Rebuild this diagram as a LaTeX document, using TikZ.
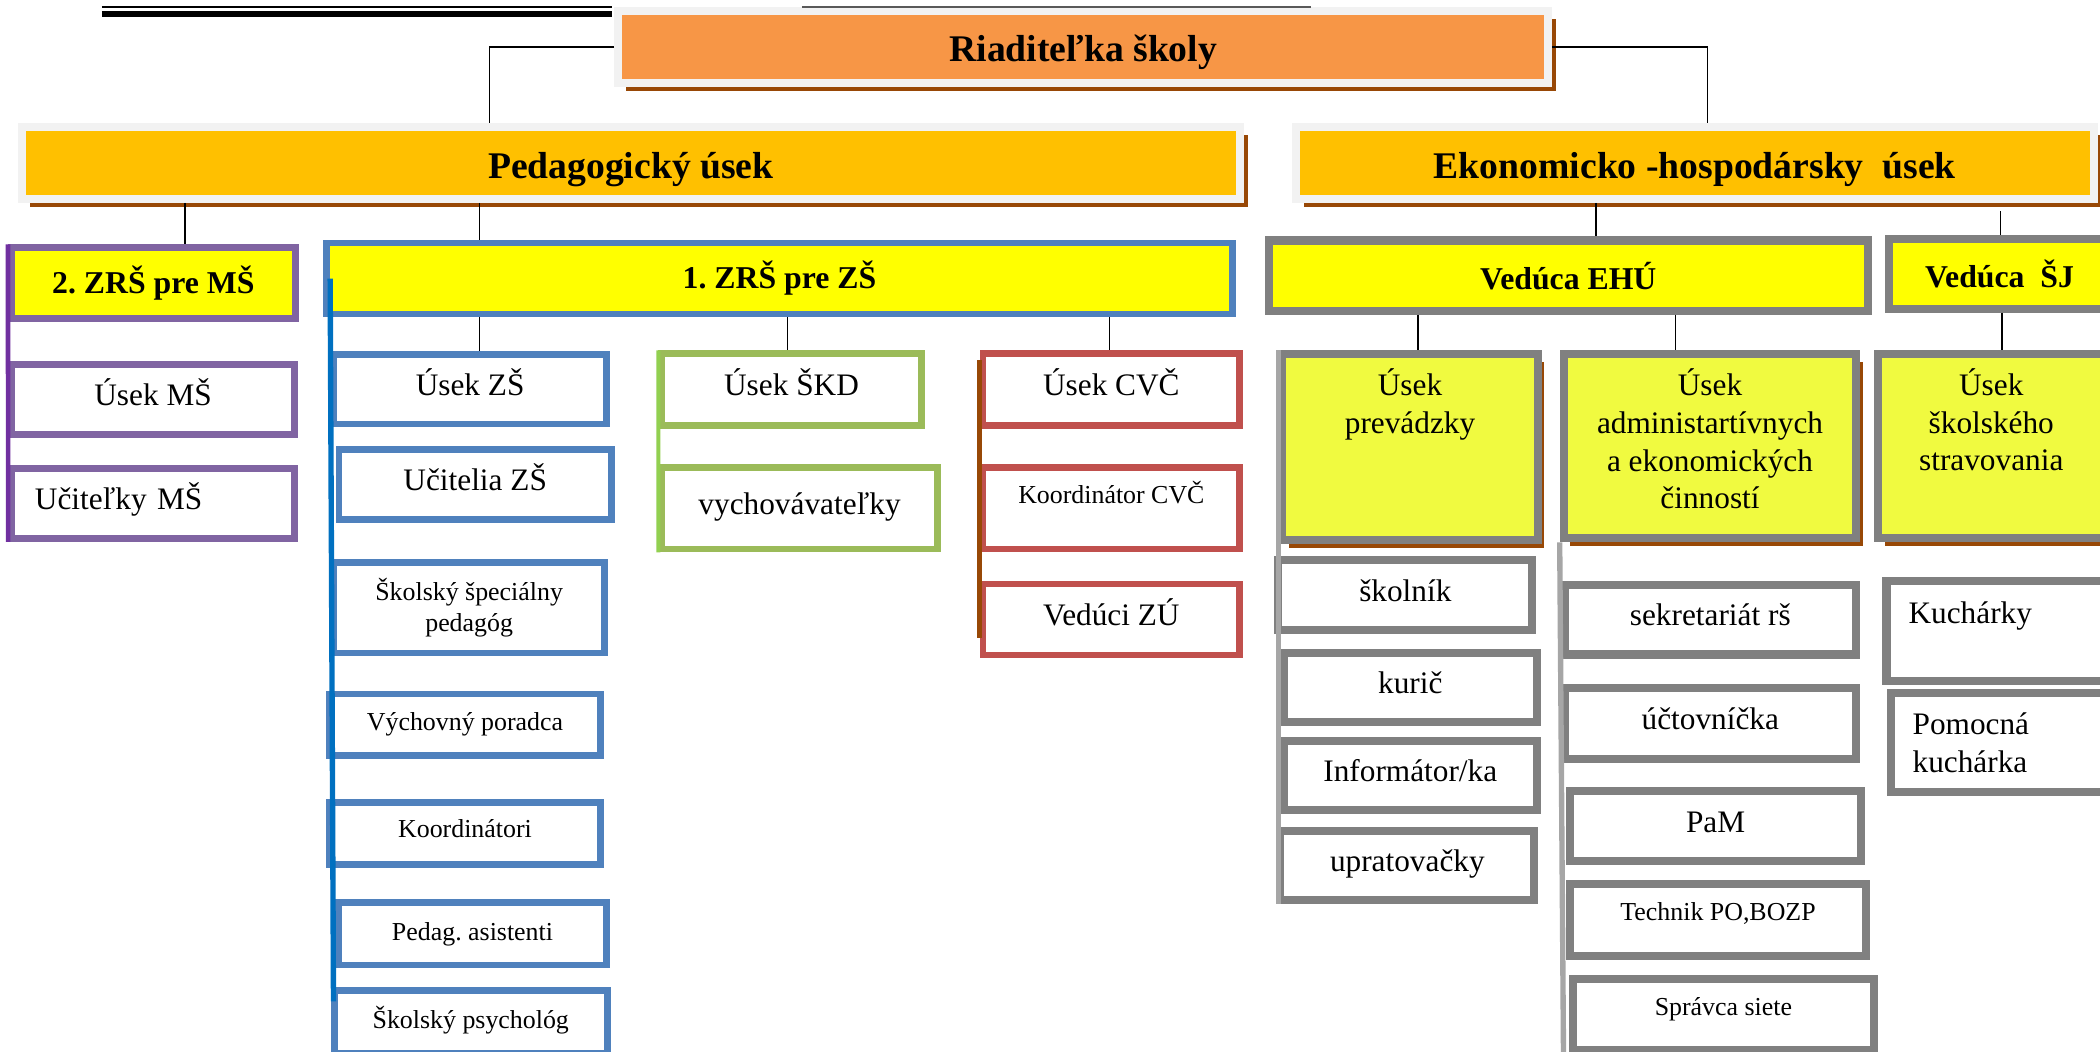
\documentclass[tikz,border=0pt]{standalone}
\usepackage{fontspec}
\setmainfont{Liberation Serif}
\usetikzlibrary{shadows}

\definecolor{riadorange}{HTML}{F79646}
\definecolor{headorange}{HTML}{FFC000}
\definecolor{headyellow}{HTML}{FFFF00}
\definecolor{usekyellow}{HTML}{F0FA40}
\definecolor{framegray}{HTML}{F2F2F2}
\definecolor{shadowbrown}{HTML}{984806}
\definecolor{msframe}{HTML}{8064A2}
\definecolor{msbar}{HTML}{7030A0}
\definecolor{zsframe}{HTML}{4F81BD}
\definecolor{zsbar}{HTML}{0070C0}
\definecolor{skdframe}{HTML}{9BBB59}
\definecolor{skdbar}{HTML}{92D050}
\definecolor{cvcframe}{HTML}{C0504D}
\definecolor{ehuframe}{HTML}{808080}
\definecolor{ehubar}{HTML}{A6A6A6}

\begin{document}
\begin{tikzpicture}[x=0.02cm, y=-0.02cm,
    every node/.style = {shape=rectangle, align=center, inner sep=0pt},
    headbox/.style = {draw=framegray, line width=0.12cm, fill=headorange,
      font=\fontsize{16}{19}\selectfont\bfseries,
      text height=0.55cm, text depth=0.1cm,
      drop shadow={shadow xshift=0.12cm, shadow yshift=-0.12cm,
        fill=shadowbrown, opacity=1}},
    leadbox/.style = {draw=#1, line width=0.1cm, fill=headyellow,
      font=\fontsize{13.5}{16}\selectfont\bfseries},
    tbox/.style = {draw=#1, line width=0.1cm, fill=white,
      font=\fontsize{13.3}{16}\selectfont},
    ubox/.style = {tbox=#1, text height=0.33cm, text depth=0.15cm},
    sbox/.style = {tbox=#1, font=\fontsize{11}{13.2}\selectfont},
    sekbox/.style = {draw=ehuframe, line width=0.12cm, fill=usekyellow,
      font=\fontsize{13.3}{16}\selectfont,
      drop shadow={shadow xshift=0.1cm, shadow yshift=-0.12cm,
        fill=shadowbrown, opacity=1}},
    conn/.style = {draw=black, line width=0.6pt},
    vbar/.style = {draw=#1, line width=0.08cm}]

  \useasboundingbox (0,0) rectangle (1568,785);
  \clip (0,0) rectangle (1568,785);

  % vedenie skoly
  \node[headbox, fill=riadorange, minimum width=13.89cm, minimum height=1.08cm]
    (riad) at (808.8,35) {Riaditeľka školy};
  \node[headbox, minimum width=18.2cm, minimum height=1.07cm]
    (ped) at (471,121.8) {Pedagogický úsek};
  \node[headbox, minimum width=11.92cm, minimum height=1.07cm]
    (eko) at (1265.5,121.8) {Ekonomicko -hospodársky\ \ úsek};

  % zastupcovia a veduce
  \node[leadbox=msframe, minimum width=4.24cm, minimum height=1.06cm]
    (zrs2) at (114.5,211.5) {2.\ ZRŠ pre MŠ};
  \node[leadbox=zsframe, minimum width=13.54cm, minimum height=1.06cm]
    (zrs1) at (582,208) {1.\ ZRŠ pre ZŠ};
  \node[leadbox=ehuframe, line width=0.12cm, minimum width=8.94cm, minimum height=1.05cm]
    (vehu) at (1171,205.8) {Vedúca EHÚ};
  \node[leadbox=ehuframe, line width=0.12cm, minimum width=3.3cm, minimum height=1.04cm]
    (vsj) at (1493,204.5) {Vedúca\ \ ŠJ};

  % MS
  \node[ubox=msframe, minimum width=4.23cm, minimum height=1.05cm]
    (ums) at (114.3,298.3) {Úsek MŠ};
  \node[ubox=msframe, minimum width=4.23cm, minimum height=1.05cm,
    text width=3.53cm, align=left] (ucms) at (114.3,375.8) {Učiteľky MŠ};

  % ZS
  \node[ubox=zsframe, minimum width=4.08cm, minimum height=1.04cm]
    (uzs) at (351,290.5) {Úsek ZŠ};
  \node[ubox=zsframe, minimum width=4.07cm, minimum height=1.05cm]
    (uczs) at (354.8,361.8) {Učitelia ZŠ};
  \node[sbox=zsframe, minimum width=4.05cm, minimum height=1.35cm]
    (spec) at (350.3,453.8) {Školský špeciálny\\pedagóg};
  \node[sbox=zsframe, minimum width=4.05cm, minimum height=0.92cm]
    (vych) at (347.2,541.1) {Výchovný poradca};
  \node[sbox=zsframe, minimum width=4.05cm, minimum height=0.93cm, text depth=0.16cm]
    (koord) at (347.2,622.3) {Koordinátori};
  \node[sbox=zsframe, minimum width=4.01cm, minimum height=0.93cm]
    (asist) at (352.8,697.3) {Pedag.\ asistenti};
  \node[sbox=zsframe, minimum width=4.08cm, minimum height=0.94cm, text depth=0.12cm]
    (psych) at (351.5,763) {Školský psychológ};

  % SKD
  \node[ubox=skdframe, minimum width=3.88cm, minimum height=1.07cm]
    (skd) at (591,290.8) {Úsek ŠKD};
  \node[ubox=skdframe, minimum width=4.12cm, minimum height=1.22cm]
    (vychov) at (597,379.5) {vychovávateľky};

  % CVC
  \node[ubox=cvcframe, minimum width=3.83cm, minimum height=1.07cm]
    (cvc) at (829.8,290.8) {Úsek CVČ};
  \node[sbox=cvcframe, minimum width=3.83cm, minimum height=1.22cm]
    (kcvc) at (829.8,379.5) {Koordinátor CVČ\\~};
  \node[ubox=cvcframe, minimum width=3.83cm, minimum height=1.06cm]
    (vzu) at (829.8,462.5) {Vedúci ZÚ};

  % EHU useky
  \node[sekbox, minimum width=3.81cm, minimum height=2.77cm]
    (prev) at (1052.8,333.8) {Úsek\\prevádzky\\[0.82cm]~};
  \node[sekbox, minimum width=4.37cm, minimum height=2.75cm]
    (adm) at (1276.8,333.3) {Úsek\\administartívnych\\a ekonomických\\činností\\[-0.34cm]~};
  \node[sekbox, minimum width=3.37cm, minimum height=2.75cm]
    (strav) at (1486.8,333.3) {Úsek\\školského\\stravovania\\[0.23cm]~};

  % prevadzka
  \node[ubox=ehuframe, line width=0.12cm, minimum width=3.79cm, minimum height=1.05cm]
    (skoln) at (1049.3,444.3) {školník};
  \node[ubox=ehuframe, line width=0.12cm, minimum width=3.78cm, minimum height=1.03cm]
    (kuric) at (1053,513.3) {kurič};
  \node[ubox=ehuframe, line width=0.12cm, minimum width=3.78cm, minimum height=1.03cm]
    (info) at (1053,579.3) {Informátor/ka};
  \node[ubox=ehuframe, line width=0.12cm, minimum width=3.79cm, minimum height=1.03cm]
    (uprat) at (1050.8,646.3) {upratovačky};

  % administrativa
  \node[ubox=ehuframe, line width=0.12cm, minimum width=4.34cm, minimum height=1.04cm]
    (sekr) at (1277,462.7) {sekretariát rš};
  \node[ubox=ehuframe, line width=0.12cm, minimum width=4.34cm, minimum height=1.05cm]
    (ucto) at (1277,540.3) {účtovníčka};
  \node[ubox=ehuframe, line width=0.12cm, minimum width=4.34cm, minimum height=1.05cm]
    (pam) at (1281,616.8) {PaM};
  \node[sbox=ehuframe, line width=0.12cm, minimum width=4.41cm, minimum height=1.07cm,
    text depth=0.25cm] (tech) at (1282.8,686.8) {Technik PO,BOZP};
  \node[sbox=ehuframe, line width=0.12cm, minimum width=4.49cm, minimum height=1.06cm,
    text depth=0.25cm] (sprav) at (1286.8,757.7) {Správca siete};

  % jedalen
  \node[tbox=ehuframe, line width=0.12cm, minimum width=3.63cm, minimum height=1.49cm,
    text width=2.97cm, align=left] (kuch) at (1499.3,471.3) {Kuchárky\\~};
  \node[tbox=ehuframe, line width=0.12cm, minimum width=3.57cm, minimum height=1.48cm,
    text width=2.91cm, align=left] (pomoc) at (1500.8,554.5) {Pomocná\\kuchárka};

  % zvisle pasy
  \coordinate (zs-end) at (249,747.6);
  \coordinate (adm-end) at (1167.5,800);
  \draw[vbar=msbar, line width=0.07cm] (zrs2.north west) -- (ucms.south west);
  \draw[vbar=zsbar] (uzs.west |- zrs1.center) -- (zs-end);
  \draw[vbar=skdbar, line width=0.06cm] (skd.north west) -- (vychov.south west);
  \draw[vbar=shadowbrown] ([yshift=-0.14cm]cvc.north west) -- ([yshift=0.3cm]vzu.south west);
  \draw[vbar=ehubar, line width=0.07cm] (prev.north west) -- (prev.west |- uprat.south);
  \draw[vbar=ehubar] (adm.south west) -- (adm-end);

  % spojnice
  \coordinate (c-ped) at (365.6,0);
  \coordinate (c-eko) at (1275,0);
  \coordinate (c-ms) at (138,0);
  \coordinate (c-zs) at (358,0);
  \coordinate (c-ehu) at (1191.7,0);
  \coordinate (c-sj) at (1493.6,0);
  \coordinate (c-uzs) at (357.9,0);
  \coordinate (c-skd) at (588.2,0);
  \coordinate (c-cvc) at (828.3,0);
  \coordinate (c-prev) at (1058.8,0);
  \coordinate (c-adm) at (1251.1,0);
  \coordinate (c-strav) at (1494.7,0);
  \draw[conn] (riad.west) -| (c-ped |- ped.north);
  \draw[conn] (riad.east) -| (c-eko |- eko.north);
  \draw[conn] (c-ms |- ped.south) -- (c-ms |- zrs2.north);
  \draw[conn] (c-zs |- ped.south) -- (c-zs |- zrs1.north);
  \draw[conn] (c-ehu |- eko.south) -- (c-ehu |- vehu.north);
  \draw[conn] ([yshift=-0.12cm]c-sj |- eko.south) -- (c-sj |- vsj.north);
  \draw[conn] (c-uzs |- zrs1.south) -- (c-uzs |- uzs.north);
  \draw[conn] (c-skd |- zrs1.south) -- (c-skd |- skd.north);
  \draw[conn] (c-cvc |- zrs1.south) -- (c-cvc |- cvc.north);
  \draw[conn] (c-prev |- vehu.south) -- (c-prev |- prev.north);
  \draw[conn] (c-adm |- vehu.south) -- (c-adm |- adm.north);
  \draw[conn] (c-strav |- vsj.south) -- (c-strav |- strav.north);

  % linky hore
  \draw[line width=0.03cm] (76,5.2) -- (456.7,5.2);
  \draw[line width=0.085cm] (76,10.3) -- (456.7,10.3);
  \draw[line width=0.025cm, black!65] (598.7,5) -- (978.7,5);
\end{tikzpicture}
\end{document}
